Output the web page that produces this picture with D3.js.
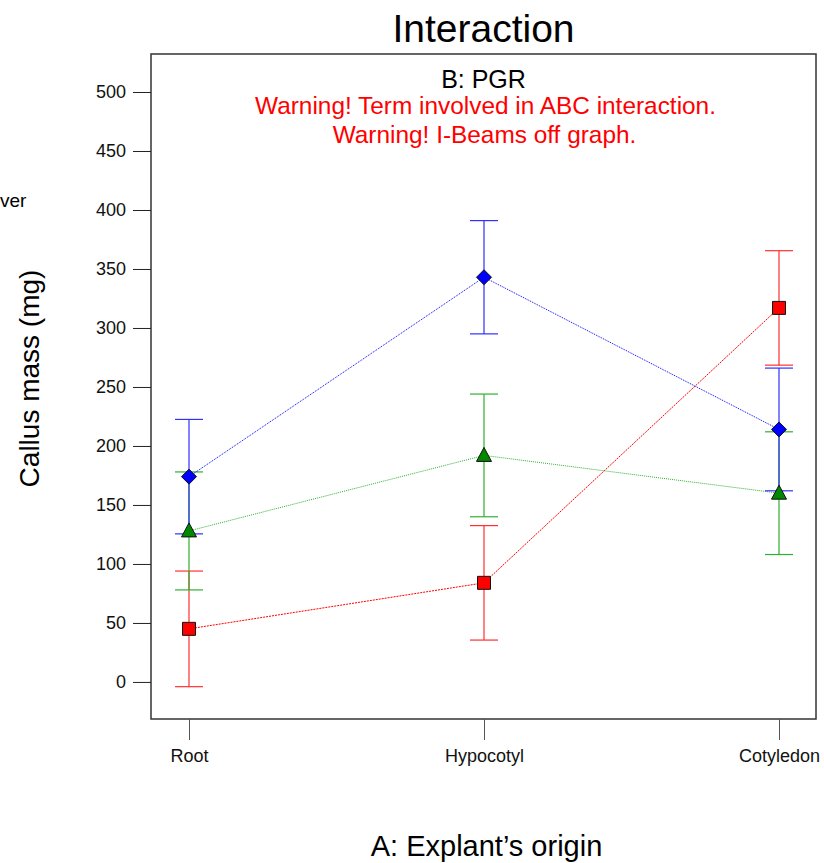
<!DOCTYPE html>
<html>
<head>
<meta charset="utf-8">
<script src="https://cdn.jsdelivr.net/npm/d3@7"></script>
<style>
  body { margin: 0; background: #fff; }
  svg { display: block; font-family: Arial, "Liberation Sans", sans-serif; }
</style>
</head>
<body>
<div id="chart"></div>
<script>
// Categories and series (means + half-width of the I-beams)
const categories = ["Root", "Hypocotyl", "Cotyledon"];
const yTicks = [0, 50, 100, 150, 200, 250, 300, 350, 400, 450, 500];

const redMeans = [45, 84, 317];
const redHalf = [49, 48.5, 48.5];
const greenMeans = [128, 192, 160];
const greenHalf = [50, 52, 52];
const blueMeans = [174, 343, 214];
const blueHalf = [48.5, 48, 52];

const series = [
  { name: "red", means: redMeans, half: redHalf, line: "#ff0000", bar: "#ff3030", fill: "#ff0000", shape: "square", dash: "2,1" },
  { name: "green", means: greenMeans, half: greenHalf, line: "#30b030", bar: "#30b030", fill: "#008800", shape: "triangle", dash: "1,1" },
  { name: "blue", means: blueMeans, half: blueHalf, line: "#0000ff", bar: "#3030ff", fill: "#0000ff", shape: "diamond", dash: "1,1" }
];

const width = 824, height = 863;
const box = { left: 151, right: 816, top: 54, bottom: 719 };

const svg = d3.select("#chart").append("svg")
  .attr("width", width)
  .attr("height", height);

// Scales
const x = d3.scalePoint().domain(categories).range([box.left + 38, box.right - 37]);
const y = d3.scaleLinear().domain([-31.4, 532.2]).range([box.bottom, box.top]);

// Plot frame
svg.append("rect")
  .attr("x", box.left)
  .attr("y", box.top)
  .attr("width", box.right - box.left)
  .attr("height", box.bottom - box.top)
  .attr("fill", "none")
  .attr("stroke", "#333")
  .attr("stroke-width", 1.5);

// Y axis
const yAxis = svg.append("g")
  .attr("transform", `translate(${box.left},0)`)
  .call(d3.axisLeft(y).tickValues(yTicks).tickSize(18).tickPadding(7).tickFormat(d3.format("d")));
yAxis.select(".domain").remove();
yAxis.selectAll(".tick line").attr("stroke", "#222");
yAxis.selectAll(".tick text").attr("font-size", 18).attr("fill", "#111").attr("font-family", "Arial, 'Liberation Sans', sans-serif");

// X axis
const xAxis = svg.append("g")
  .attr("transform", `translate(0,${box.bottom})`)
  .call(d3.axisBottom(x).tickSize(21).tickPadding(9));
xAxis.select(".domain").remove();
xAxis.selectAll(".tick line").attr("stroke", "#555");
xAxis.selectAll(".tick text").attr("font-size", 18).attr("fill", "#111").attr("font-family", "Arial, 'Liberation Sans', sans-serif");

// Title and annotations
svg.append("text")
  .attr("x", (box.left + box.right) / 2)
  .attr("y", 42)
  .attr("text-anchor", "middle")
  .attr("font-size", 39)
  .text("Interaction");

svg.append("text")
  .attr("x", (box.left + box.right) / 2)
  .attr("y", 88)
  .attr("text-anchor", "middle")
  .attr("font-size", 25)
  .text("B: PGR");

svg.append("text")
  .attr("x", (box.left + box.right) / 2 + 2)
  .attr("y", 114)
  .attr("text-anchor", "middle")
  .attr("font-size", 24.4)
  .attr("fill", "#ff0000")
  .text("Warning! Term involved in ABC interaction.");

svg.append("text")
  .attr("x", (box.left + box.right) / 2 + 1)
  .attr("y", 143)
  .attr("text-anchor", "middle")
  .attr("font-size", 24.4)
  .attr("fill", "#ff0000")
  .text("Warning! I-Beams off graph.");

// Axis titles
svg.append("text")
  .attr("transform", `translate(39,${(box.top + box.bottom) / 2 - 8}) rotate(-90)`)
  .attr("text-anchor", "middle")
  .attr("font-size", 28)
  .text("Callus mass (mg)");

svg.append("text")
  .attr("x", (box.left + box.right) / 2 + 3)
  .attr("y", 856)
  .attr("text-anchor", "middle")
  .attr("font-size", 29)
  .text("A: Explant\u2019s origin");

// Cut-off side legend text
svg.append("text")
  .attr("x", 0)
  .attr("y", 207)
  .attr("font-size", 19)
  .text("ver");

// Series: I-beams, dotted connecting lines, markers
const capHalf = 14;
const line = d3.line().x((d, i) => x(categories[i])).y(d => y(d));

series.forEach(s => {
  const g = svg.append("g");

  s.means.forEach((m, i) => {
    const cx = x(categories[i]);
    const lo = y(m - s.half[i]);
    const hi = y(m + s.half[i]);
    g.append("line").attr("x1", cx).attr("x2", cx).attr("y1", hi).attr("y2", lo)
      .attr("stroke", s.bar).attr("stroke-width", 1.2);
    [hi, lo].forEach(yy => {
      g.append("line").attr("x1", cx - capHalf).attr("x2", cx + capHalf).attr("y1", yy).attr("y2", yy)
        .attr("stroke", s.bar).attr("stroke-width", 1.2);
    });
  });

  g.append("path")
    .datum(s.means)
    .attr("d", line)
    .attr("fill", "none")
    .attr("stroke", s.line)
    .attr("stroke-width", 1)
    .attr("stroke-dasharray", s.dash);
});

series.forEach(s => {
  const g = svg.append("g");
  s.means.forEach((m, i) => {
    const cx = x(categories[i]);
    const cy = y(m);
    let path;
    if (s.shape === "square") {
      path = `M${cx - 6.5},${cy - 6.5}h13v13h-13z`;
    } else if (s.shape === "diamond") {
      path = `M${cx},${cy - 7.5}L${cx + 7.5},${cy}L${cx},${cy + 7.5}L${cx - 7.5},${cy}z`;
    } else {
      path = `M${cx},${cy - 8}L${cx + 7.5},${cy + 6}L${cx - 7.5},${cy + 6}z`;
    }
    g.append("path")
      .attr("d", path)
      .attr("fill", s.fill)
      .attr("stroke", "#111")
      .attr("stroke-width", 1);
  });
});
</script>
</body>
</html>
